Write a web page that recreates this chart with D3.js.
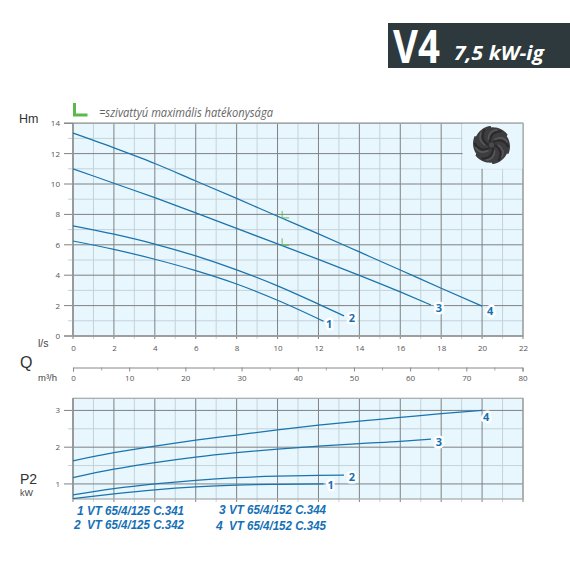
<!DOCTYPE html>
<html>
<head>
<meta charset="utf-8">
<script src="https://cdn.jsdelivr.net/npm/d3@7"></script>
<style>
  html, body { margin: 0; padding: 0; background: #fff; }
  svg { display: block; }
  text { font-family: "Open Sans", sans-serif; }
</style>
</head>
<body>
<svg id="chart" width="570" height="570"></svg>
<script>
// Values
const pumpIds = ['1', '2', '3', '4'];
const pumpNames = ['VT 65/4/125 C.341', 'VT 65/4/125 C.342', 'VT 65/4/152 C.344', 'VT 65/4/152 C.345'];

const flow1 = [0, 2, 4, 6, 8, 10, 12.25];
const flow2 = [0, 2, 4, 6, 8, 10, 12, 13.25];
const flow3 = [0, 2, 4, 6, 8, 10, 12, 14, 16, 17.5];
const flow4 = [0, 2, 4, 6, 8, 10, 12, 14, 16, 18, 20];

const head1 = [6.25, 5.7, 5.05, 4.3, 3.42, 2.35, 0.97];
const head2 = [7.25, 6.7, 6.05, 5.27, 4.35, 3.3, 2.1, 1.32];
const head3 = [11.0, 10.05, 9.1, 8.1, 7.08, 6.06, 5.04, 3.99, 2.9, 2.04];
const head4 = [13.35, 12.38, 11.35, 10.2, 9.05, 7.88, 6.72, 5.53, 4.34, 3.14, 1.97];

const power1 = [0.6, 0.73, 0.84, 0.92, 0.97, 0.99, 1.0];
const power2 = [0.7, 0.87, 1.0, 1.1, 1.17, 1.21, 1.23, 1.24];
const power3 = [1.17, 1.4, 1.58, 1.73, 1.85, 1.95, 2.03, 2.1, 2.16, 2.22];
const power4 = [1.63, 1.85, 2.03, 2.19, 2.33, 2.47, 2.6, 2.71, 2.81, 2.91, 3.0];

const bestFlow = [10.2, 10.2];
const bestHead = [7.9, 6.1];

const flowTicks = d3.range(0, 23, 2);
const flowMinor = d3.range(1, 22, 2);
const headTicks = d3.range(0, 15, 2);
const headMinor = d3.range(1, 14, 2);
const m3hTicks = d3.range(0, 81, 10);
const m3hMinor = d3.range(5, 80, 10);
const powerTicks = [1, 2, 3];
const powerMinor = [1.5, 2.5];

// Frame setup
const blue = '#1a74ad';
const labelBlue = '#1570b5';
const green = '#5cb84c';
const panelFill = '#e8f6fd';
const gridDark = '#7d8283';
const gridLight = '#c4d3da';
const titleFont = '"Liberation Sans", sans-serif';

const xMap = d3.scaleLinear().domain([0, 22]).range([73, 523]);
const yHead = d3.scaleLinear().domain([0, 14]).range([336, 123.2]);
const yPower = d3.scaleLinear().domain([0.59, 3.33]).range([499, 398.3]);
const xM3h = d3.scaleLinear().domain([0, 80]).range([73, 522.5]);

const svg = d3.select('#chart');

function addText(txt, x, y, size, opts) {
    opts = opts || {};
    let t = svg.append('text')
        .attr('x', x).attr('y', y)
        .attr('font-size', size)
        .attr('fill', opts.fill || '#444')
        .attr('font-weight', opts.weight || 400)
        .attr('font-style', opts.style || 'normal')
        .attr('text-anchor', opts.anchor || 'start')
        .text(txt);
    if (opts.font) t.style('font-family', opts.font);
    if (opts.length) t.attr('textLength', opts.length).attr('lengthAdjust', 'spacingAndGlyphs');
    return t;
}

function drawPanel(yMap, major, minor, leftMinor) {
    let top = yMap.range()[1], bottom = yMap.range()[0];
    let left = xMap.range()[0], right = xMap.range()[1];
    let g = svg.append('g');
    g.append('rect').attr('x', left).attr('y', top)
        .attr('width', right - left).attr('height', bottom - top).attr('fill', panelFill);
    // light lines first, dark ones on top
    g.selectAll('.hm').data(minor).enter().append('line')
        .attr('x1', leftMinor).attr('x2', right)
        .attr('y1', d => yMap(d)).attr('y2', d => yMap(d))
        .attr('stroke', gridLight).attr('stroke-width', 1);
    g.selectAll('.vm').data(flowMinor).enter().append('line')
        .attr('x1', d => xMap(d)).attr('x2', d => xMap(d))
        .attr('y1', top).attr('y2', bottom + 3)
        .attr('stroke', gridLight).attr('stroke-width', 1);
    g.selectAll('.hM').data(major).enter().append('line')
        .attr('x1', 64).attr('x2', right)
        .attr('y1', d => yMap(d)).attr('y2', d => yMap(d))
        .attr('stroke', gridDark).attr('stroke-width', 1);
    g.selectAll('.vM').data(flowTicks).enter().append('line')
        .attr('x1', d => xMap(d)).attr('x2', d => xMap(d))
        .attr('y1', top).attr('y2', bottom + 3)
        .attr('stroke', gridDark).attr('stroke-width', 1);
    return g;
}

drawPanel(yHead, headTicks, headMinor, 68);

// Corner kept clear for the impeller picture
svg.append('rect')
    .attr('x', xMap(19) + 1).attr('y', yHead(14))
    .attr('width', xMap(22) - xMap(19) - 1).attr('height', yHead(11) - yHead(14))
    .attr('fill', panelFill);

drawPanel(yPower, powerTicks, powerMinor, 68);

// Panel borders
[yHead, yPower].forEach(function (yMap) {
    let top = yMap.range()[1], bottom = yMap.range()[0];
    svg.append('rect')
        .attr('x', 73).attr('y', top)
        .attr('width', 450).attr('height', bottom - top)
        .attr('fill', 'none').attr('stroke', '#a4a8a9').attr('stroke-width', 1.2);
    svg.append('line')
        .attr('x1', 73).attr('x2', 73).attr('y1', top).attr('y2', bottom)
        .attr('stroke', '#8e9293').attr('stroke-width', 1.4);
});
svg.append('line')
    .attr('x1', 64).attr('x2', 73).attr('y1', yHead(14)).attr('y2', yHead(14))
    .attr('stroke', gridDark);
svg.append('line')
    .attr('x1', 64).attr('x2', 523).attr('y1', yHead(0)).attr('y2', yHead(0))
    .attr('stroke', '#999').attr('stroke-width', 1.4);

// Tick labels
function tickStyle(sel) {
    sel.select('.domain').remove();
    sel.selectAll('.tick line').remove();
    sel.selectAll('text')
        .attr('font-family', '"Open Sans", sans-serif')
        .attr('font-size', 8)
        .attr('fill', '#555');
}
svg.append('g').attr('transform', 'translate(0,336)')
    .call(d3.axisBottom(xMap).tickValues(flowTicks).tickSize(0).tickPadding(9))
    .call(tickStyle);
svg.append('g').attr('transform', 'translate(60,0)')
    .call(d3.axisLeft(yHead).tickValues(headTicks).tickSize(0).tickPadding(0))
    .call(tickStyle);
svg.append('g').attr('transform', 'translate(60,0)')
    .call(d3.axisLeft(yPower).tickValues(powerTicks).tickFormat(d3.format('d')).tickSize(0).tickPadding(0))
    .call(tickStyle);

// m3/h axis
svg.append('g').attr('transform', 'translate(0,367.5)')
    .call(d3.axisBottom(xM3h).tickValues(m3hMinor).tickSize(3).tickFormat(''))
    .call(g => g.selectAll('line').attr('stroke', '#aaa'))
    .call(g => g.select('.domain').remove());
svg.append('g').attr('transform', 'translate(0,367.5)')
    .call(d3.axisBottom(xM3h).tickValues(m3hTicks).tickSize(4).tickPadding(4))
    .call(g => g.selectAll('line').attr('stroke', '#888'))
    .call(g => g.select('.domain').attr('stroke', '#888'))
    .call(g => g.selectAll('text')
        .attr('font-family', '"Open Sans", sans-serif')
        .attr('font-size', 8).attr('fill', '#555'));

// Curves
const flows = [flow1, flow2, flow3, flow4];
const heads = [head1, head2, head3, head4];
const powers = [power1, power2, power3, power4];

function drawCurves(yMap, values) {
    let line = d3.line()
        .x(d => xMap(d[0])).y(d => yMap(d[1]))
        .curve(d3.curveMonotoneX);
    pumpIds.forEach(function (id, i) {
        svg.append('path')
            .attr('d', line(d3.zip(flows[i], values[i])))
            .attr('fill', 'none')
            .attr('stroke', blue)
            .attr('stroke-width', 1.25);
    });
}
drawCurves(yHead, heads);
drawCurves(yPower, powers);

// Curve numbers, with a white halo cutting the grid
function curveLabel(id, x, y) {
    addText(id, x, y, 11, { fill: labelBlue, weight: 700, anchor: 'middle' })
        .attr('stroke', '#fff').attr('stroke-width', 5)
        .attr('stroke-linejoin', 'round').attr('paint-order', 'stroke');
}
const headDx = [5.5, 8, 8, 8];
const headDy = [7, 6, 7, 9];
const powerDx = [7, 8, 8, 4];
const powerDy = [5, 6, 7, 11];
pumpIds.forEach(function (id, i) {
    let last = flows[i].length - 1;
    curveLabel(id, xMap(flows[i][last]) + headDx[i], yHead(heads[i][last]) + headDy[i]);
    curveLabel(id, xMap(flows[i][last]) + powerDx[i], yPower(powers[i][last]) + powerDy[i]);
});

// Best efficiency marks
function drawL(x, y, w, h, sw) {
    svg.append('path')
        .attr('d', 'M' + x + ',' + y + 'V' + (y + h) + 'H' + (x + w))
        .attr('fill', 'none').attr('stroke', green).attr('stroke-width', sw);
}
bestFlow.forEach(function (q, i) {
    drawL(xMap(q) + 0.5, yHead(bestHead[i]) - 5, 7, 7, 0.9);
});
drawL(74.5, 103, 13, 12, 3);

// Impeller
const imp = svg.append('g').attr('transform', 'translate(491.5,145)');
const rim = d3.range(0, 360, 3).map(function (a) {
    let phase = (a % 60) / 60;
    return [a * Math.PI / 180, 17.6 + 1.6 * phase];
});
imp.append('path')
    .attr('d', d3.lineRadial().curve(d3.curveLinearClosed)(rim))
    .attr('fill', '#3d3d40');
d3.range(6).forEach(function (k) {
    imp.append('path')
        .attr('d', 'M2,-3 C7,-6 13,-5 17,2')
        .attr('transform', 'rotate(' + k * 60 + ')')
        .attr('fill', 'none').attr('stroke', '#2a2a2c').attr('stroke-width', 2);
    imp.append('path')
        .attr('d', 'M3,-5.5 C8,-8 13,-7.5 16,-2.5')
        .attr('transform', 'rotate(' + k * 60 + ')')
        .attr('fill', 'none').attr('stroke', '#58585b').attr('stroke-width', 1.6);
});
imp.append('circle').attr('r', 3.2).attr('fill', '#4a4a4d').attr('stroke', '#2a2a2c').attr('stroke-width', 0.8);

// Header band
svg.append('rect').attr('x', 388).attr('y', 23).attr('width', 182).attr('height', 45).attr('fill', '#2d393c');
addText('V4', 393, 63, 46, { fill: '#fff', weight: 700, length: 47 });
addText('7,5 kW-ig', 454, 60, 20, { fill: '#fff', weight: 700, style: 'italic', length: 90 });

// Legend note and axis titles
addText('=szivattyú maximális hatékonysága', 99, 117, 12, { fill: '#666', style: 'italic', length: 174 });
addText('Hm', 19, 123, 12.5, { fill: '#333', font: titleFont });
addText('l/s', 38, 347, 10.5, { fill: '#444', font: titleFont });
addText('Q', 20, 368, 16, { fill: '#333', font: titleFont });
addText('m³/h', 38, 381, 9.5, { fill: '#444', font: titleFont });
addText('P2', 20, 484, 14, { fill: '#333', font: titleFont });
addText('kW', 20, 496, 9, { fill: '#444', font: titleFont });

// Pump list
const listX = [76, 73, 218, 215];
const listY = [515, 529, 514, 530];
pumpIds.forEach(function (id, i) {
    addText(id, listX[i] + 1, listY[i], 12, { fill: labelBlue, weight: 700, style: 'italic', font: titleFont });
    addText(pumpNames[i], listX[i] + 11 + (i === 1 ? 3 : 0) + (i === 3 ? 3 : 0), listY[i], 12,
        { fill: labelBlue, weight: 700, style: 'italic', length: 97, font: titleFont });
});
</script>
</body>
</html>
